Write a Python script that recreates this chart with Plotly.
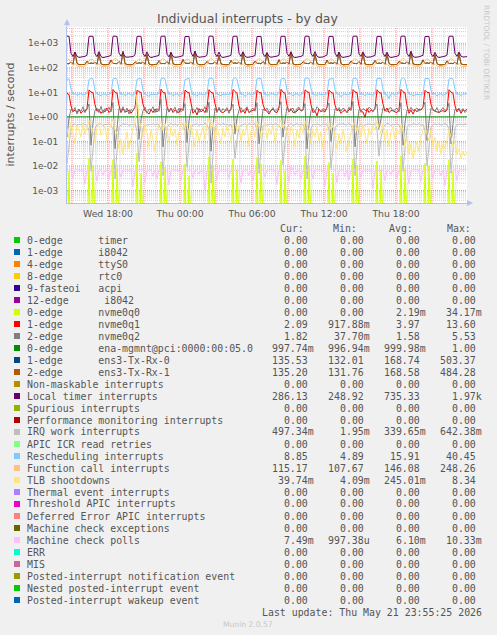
import math
import pandas as pd
import plotly.graph_objects as go

# ---------------- data (10-minute samples, Wed 14:35 -> Thu 23:55) ----------------
start_time = "2026-05-20 14:35"
end_time = "2026-05-21 23:55"

local_timer = [
    1960, 1930, 390, 290, 440, 300, 265, 270, 280, 295, 330, 1910,
    1950, 1920, 370, 285, 460, 290, 260, 268, 275, 300, 320, 1930,
    1970, 1900, 400, 300, 420, 285, 270, 272, 282, 290, 340, 1890,
    1940, 1910, 380, 290, 450, 295, 262, 270, 276, 305, 325, 1920,
    1960, 1950, 360, 280, 430, 290, 268, 265, 280, 298, 315, 1900,
    1930, 1900, 410, 295, 470, 300, 270, 275, 285, 290, 335, 1940,
    1970, 1920, 380, 288, 440, 286, 264, 270, 278, 302, 328, 1910,
    1950, 1940, 395, 292, 455, 298, 266, 268, 282, 296, 318, 1890,
    1960, 1910, 370, 285, 425, 292, 270, 274, 279, 300, 330, 1930,
    1940, 1930, 385, 300, 445, 288, 262, 266, 281, 294, 322, 1920,
    1970, 1900, 375, 290, 460, 296, 268, 272, 277, 305, 336, 1900,
    1950, 1920, 400, 286, 435, 291, 265, 270, 283, 298, 326, 1940,
    1960, 1940, 365, 294, 450, 299, 269, 267, 280, 301, 319, 1910,
    1930, 1910, 390, 288, 440, 287, 263, 271, 276, 297, 331, 1930,
    1970, 1930, 380, 292, 465, 294, 267, 269, 282, 303, 324, 1900,
    1950, 1900, 370, 287, 430, 290, 264, 272, 279, 299, 333, 1920,
    1960, 1920, 385, 295, 445, 300, 275, 290, 286,
]

ens3_rx1 = [
    150, 146, 175, 138, 430, 152, 135, 133, 136, 138, 185, 148,
    158, 150, 168, 140, 380, 147, 134, 132, 135, 139, 210, 152,
    155, 148, 180, 137, 470, 150, 136, 133, 134, 137, 175, 150,
    160, 152, 172, 139, 350, 145, 133, 134, 136, 140, 195, 147,
    152, 147, 178, 141, 420, 149, 135, 132, 137, 138, 220, 155,
    157, 151, 169, 138, 484, 151, 134, 133, 135, 141, 180, 149,
    154, 149, 176, 140, 330, 146, 136, 132, 134, 137, 200, 153,
    159, 150, 171, 137, 410, 148, 133, 134, 136, 139, 190, 151,
    153, 146, 182, 139, 390, 152, 135, 133, 135, 138, 215, 148,
    158, 152, 170, 141, 450, 147, 134, 132, 137, 140, 178, 154,
    155, 148, 175, 138, 360, 150, 136, 134, 134, 137, 205, 150,
    160, 151, 168, 140, 440, 149, 133, 133, 136, 139, 188, 152,
    152, 147, 179, 137, 400, 146, 135, 132, 135, 141, 198, 149,
    157, 150, 173, 139, 370, 151, 134, 134, 137, 138, 182, 155,
    154, 149, 177, 141, 460, 148, 136, 133, 134, 140, 212, 151,
    159, 152, 170, 138, 345, 150, 133, 132, 136, 137, 192, 148,
    153, 148, 174, 140, 395, 147, 135, 134, 135.2,
]
ens3_rx0 = ens3_rx1  # drawn underneath, visually identical

function_call = [
    235, 222, 165, 126, 150, 119, 114, 116, 113, 118, 132, 205,
    228, 218, 158, 124, 146, 117, 112, 115, 114, 119, 135, 212,
    240, 225, 170, 127, 155, 120, 115, 113, 116, 117, 130, 200,
    232, 220, 162, 123, 148, 118, 113, 117, 112, 120, 138, 215,
    238, 215, 168, 125, 152, 116, 114, 114, 115, 118, 133, 208,
    230, 223, 160, 128, 145, 121, 112, 116, 113, 117, 136, 210,
    245, 219, 166, 124, 150, 118, 115, 113, 114, 119, 131, 203,
    233, 221, 163, 126, 147, 117, 113, 115, 116, 118, 137, 214,
    236, 217, 169, 125, 153, 119, 114, 117, 113, 120, 134, 206,
    229, 224, 161, 127, 149, 120, 112, 114, 115, 117, 132, 211,
    241, 220, 167, 123, 151, 116, 115, 116, 112, 119, 139, 204,
    234, 218, 164, 126, 146, 118, 113, 113, 114, 118, 133, 209,
    237, 222, 159, 124, 154, 121, 114, 115, 116, 117, 135, 213,
    231, 216, 170, 128, 148, 117, 112, 117, 113, 120, 130, 207,
    248, 221, 165, 125, 152, 119, 115, 114, 115, 118, 138, 202,
    235, 219, 162, 127, 147, 118, 113, 116, 114, 117, 132, 210,
    239, 223, 167, 124, 150, 116, 114, 113, 115.17,
]

rescheduling = [
    34, 36, 14, 8.2, 9.0, 7.6, 8.4, 8.8, 7.9, 8.1, 9.3, 33,
    37, 35, 12, 8.6, 8.1, 7.2, 8.9, 8.3, 7.7, 8.5, 9.0, 35,
    38, 34, 13, 7.9, 8.7, 7.5, 8.2, 9.1, 8.0, 7.6, 8.8, 34,
    36, 37, 12, 8.4, 7.8, 6.9, 8.6, 8.0, 8.3, 7.9, 9.4, 36,
    39, 35, 14, 8.0, 8.9, 7.4, 8.1, 8.7, 7.5, 8.2, 9.1, 33,
    35, 38, 13, 7.7, 8.3, 7.0, 8.8, 8.4, 8.1, 7.8, 9.2, 37,
    38, 36, 12, 8.5, 8.0, 7.3, 8.5, 7.9, 8.6, 8.0, 8.9, 35,
    40, 34, 14, 8.1, 8.6, 6.8, 8.3, 8.9, 7.8, 8.4, 9.0, 36,
    36, 37, 13, 7.8, 8.2, 7.6, 9.0, 8.2, 8.0, 7.7, 9.3, 34,
    37, 35, 12, 8.3, 8.8, 7.1, 8.4, 8.6, 7.6, 8.1, 9.1, 38,
    39, 36, 14, 8.0, 8.1, 7.5, 8.7, 8.0, 8.3, 7.9, 8.8, 35,
    35, 38, 13, 8.6, 8.5, 6.6, 8.2, 8.5, 7.9, 8.3, 9.2, 36,
    38, 35, 12, 7.9, 8.7, 7.2, 8.9, 8.1, 8.4, 7.5, 9.0, 37,
    36, 37, 13, 8.2, 8.0, 5.5, 8.6, 8.8, 7.7, 8.2, 9.4, 34,
    40, 34, 14, 8.4, 8.4, 7.4, 8.0, 8.3, 8.1, 7.8, 8.9, 36,
    37, 36, 12, 8.1, 8.9, 7.0, 8.5, 8.7, 7.5, 8.0, 9.1, 35,
    38, 35, 13, 8.3, 8.6, 7.3, 8.8, 8.5, 8.85,
]

nvme0q1 = [
    9.2, 8.1, 2.8, 1.6, 1.9, 1.5, 2.1, 1.4, 1.8, 1.7, 2.2, 12.6,
    10.4, 9.6, 3.1, 1.7, 2.0, 1.4, 1.8, 1.6, 2.3, 1.5, 1.9, 13.2,
    10.1, 9.3, 2.9, 1.5, 2.2, 1.6, 1.7, 1.9, 1.4, 1.8, 2.4, 12.1,
    10.6, 9.8, 3.3, 1.8, 1.6, 1.3, 2.0, 1.5, 2.1, 1.6, 2.0, 13.6,
    9.9, 9.4, 2.7, 1.6, 2.3, 1.5, 1.9, 1.7, 1.5, 2.2, 1.8, 12.4,
    10.3, 9.7, 3.0, 1.4, 1.8, 1.2, 2.2, 1.6, 1.9, 1.5, 2.5, 12.9,
    10.0, 9.5, 3.4, 1.7, 2.1, 1.6, 1.5, 1.8, 2.0, 1.7, 2.1, 13.1,
    10.5, 9.2, 2.8, 1.5, 1.9, 1.4, 2.3, 1.5, 1.7, 1.9, 2.0, 12.3,
    9.8, 9.6, 3.2, 1.9, 1.7, 1.3, 1.8, 2.1, 1.6, 1.5, 2.3, 13.4,
    10.2, 9.1, 2.9, 1.6, 2.2, 1.5, 1.6, 1.7, 2.2, 1.8, 1.9, 12.7,
    10.7, 9.9, 3.1, 1.5, 1.8, 1.1, 2.1, 1.6, 1.8, 1.6, 2.4, 12.5,
    10.0, 9.3, 3.0, 1.8, 2.0, 1.4, 1.7, 1.9, 1.5, 2.0, 2.1, 13.0,
    10.4, 9.7, 2.7, 1.6, 1.6, 0.95, 2.2, 1.5, 1.9, 1.7, 2.2, 12.8,
    9.9, 9.4, 3.3, 1.7, 2.3, 1.5, 1.8, 1.8, 1.6, 1.5, 2.0, 13.3,
    10.6, 9.5, 2.9, 1.4, 1.9, 1.3, 2.0, 1.6, 2.1, 1.9, 2.5, 12.2,
    10.1, 9.8, 3.2, 1.9, 1.7, 1.6, 1.5, 1.7, 1.8, 1.6, 1.9, 12.9,
    10.3, 9.2, 2.8, 1.6, 2.1, 1.4, 1.9, 1.7, 2.09,
]

nvme0q2 = [
    0.15, 0.9, 2.1, 1.6, 2.4, 1.3, 2.0, 1.7, 2.6, 1.5, 2.1, 3.4,
    0.07, 0.6, 1.9, 2.3, 1.5, 2.7, 1.4, 2.2, 1.8, 2.5, 1.6, 3.9,
    0.05, 0.45, 2.2, 1.7, 2.6, 1.5, 2.3, 1.3, 2.0, 1.8, 2.4, 3.6,
    0.12, 0.8, 1.8, 2.5, 1.4, 2.1, 1.9, 2.6, 1.5, 2.2, 1.7, 5.5,
    0.06, 0.5, 2.4, 1.6, 2.2, 1.8, 2.5, 1.4, 2.3, 1.6, 2.0, 3.5,
    0.09, 0.7, 2.0, 2.2, 1.7, 2.4, 1.5, 2.1, 1.9, 2.6, 1.5, 4.0,
    0.04, 0.4, 2.3, 1.5, 2.5, 1.6, 2.2, 1.8, 2.4, 1.4, 2.3, 3.3,
    0.2, 0.9, 1.9, 2.4, 1.6, 2.0, 2.6, 1.5, 1.8, 2.3, 1.7, 3.8,
    0.08, 0.55, 2.1, 1.8, 2.3, 1.5, 1.9, 2.4, 1.6, 2.0, 2.5, 4.2,
    0.15, 0.75, 2.5, 1.6, 2.0, 2.3, 1.4, 2.2, 2.5, 1.7, 1.9, 3.5,
    0.05, 0.5, 1.8, 2.3, 1.5, 2.6, 2.1, 1.6, 2.2, 1.9, 2.4, 3.7,
    0.1, 0.65, 2.2, 1.9, 2.4, 1.7, 2.3, 2.0, 1.5, 2.5, 1.8, 4.3,
    0.06, 0.45, 2.0, 1.7, 2.2, 1.9, 1.6, 2.5, 2.1, 1.6, 2.2, 3.4,
    0.3, 1.0, 2.4, 2.1, 1.6, 2.2, 2.4, 1.7, 1.9, 2.3, 1.6, 3.8,
    0.07, 0.6, 1.9, 1.6, 2.5, 1.8, 2.0, 2.3, 1.7, 2.1, 2.5, 4.0,
    0.11, 0.7, 2.3, 2.2, 1.7, 2.4, 1.5, 1.9, 2.4, 1.8, 2.0, 3.6,
    0.08, 0.55, 2.1, 1.9, 2.3, 1.6, 2.2, 1.5, 1.82,
]

ena_mgmnt = [
    1.0, 1.0, 0.999, 1.0, 1.0, 0.998, 1.0, 1.0, 0.999, 1.0, 1.0, 1.0,
    1.0, 0.999, 1.0, 1.0, 0.998, 1.0, 1.0, 1.0, 0.999, 1.0, 1.0, 1.0,
    1.0, 1.0, 1.0, 0.999, 1.0, 1.0, 0.998, 1.0, 1.0, 1.0, 0.999, 1.0,
    0.999, 1.0, 1.0, 1.0, 1.0, 0.999, 1.0, 0.998, 1.0, 1.0, 1.0, 1.0,
    1.0, 1.0, 0.998, 1.0, 0.999, 1.0, 1.0, 1.0, 1.0, 0.999, 1.0, 1.0,
    1.0, 0.999, 1.0, 1.0, 1.0, 0.998, 1.0, 1.0, 0.999, 1.0, 1.0, 1.0,
    1.0, 1.0, 1.0, 0.999, 1.0, 1.0, 1.0, 0.998, 1.0, 1.0, 0.999, 1.0,
    0.998, 1.0, 1.0, 1.0, 0.999, 1.0, 1.0, 1.0, 1.0, 0.999, 1.0, 1.0,
    1.0, 1.0, 0.999, 1.0, 1.0, 1.0, 0.998, 1.0, 1.0, 1.0, 1.0, 0.999,
    1.0, 0.999, 1.0, 1.0, 0.998, 1.0, 1.0, 0.999, 1.0, 1.0, 1.0, 1.0,
    1.0, 1.0, 1.0, 0.999, 1.0, 1.0, 0.999, 1.0, 1.0, 0.998, 1.0, 1.0,
    0.999, 1.0, 1.0, 1.0, 1.0, 0.998, 1.0, 1.0, 1.0, 1.0, 0.999, 1.0,
    1.0, 1.0, 0.999, 1.0, 1.0, 1.0, 1.0, 0.999, 1.0, 1.0, 1.0, 0.998,
    1.0, 0.998, 1.0, 1.0, 0.999, 1.0, 1.0, 1.0, 0.999, 1.0, 1.0, 1.0,
    1.0, 1.0, 1.0, 0.998, 1.0, 1.0, 0.999, 1.0, 1.0, 1.0, 0.999, 1.0,
    0.999, 1.0, 1.0, 1.0, 1.0, 0.999, 1.0, 1.0, 0.998, 1.0, 1.0, 1.0,
    1.0, 1.0, 0.999, 1.0, 1.0, 0.998, 1.0, 1.0, 0.998,
]

irq_work = [
    0.012, 0.09, 0.36, 0.48, 0.52, 0.45, 0.50, 0.47, 0.53, 0.49, 0.46, 0.28,
    0.006, 0.05, 0.33, 0.50, 0.47, 0.54, 0.44, 0.51, 0.48, 0.52, 0.45, 0.31,
    0.003, 0.04, 0.40, 0.46, 0.53, 0.49, 0.51, 0.44, 0.50, 0.47, 0.55, 0.26,
    0.015, 0.10, 0.35, 0.52, 0.45, 0.50, 0.47, 0.53, 0.46, 0.51, 0.48, 0.30,
    0.004, 0.06, 0.38, 0.47, 0.54, 0.46, 0.52, 0.45, 0.50, 0.49, 0.53, 0.27,
    0.009, 0.08, 0.34, 0.51, 0.48, 0.53, 0.45, 0.50, 0.47, 0.55, 0.46, 0.32,
    0.002, 0.03, 0.39, 0.49, 0.52, 0.47, 0.54, 0.48, 0.51, 0.45, 0.50, 0.25,
    0.02, 0.12, 0.37, 0.45, 0.50, 0.52, 0.46, 0.53, 0.49, 0.48, 0.54, 0.29,
    0.005, 0.05, 0.41, 0.53, 0.46, 0.49, 0.51, 0.47, 0.52, 0.50, 0.45, 0.33,
    0.011, 0.09, 0.36, 0.48, 0.53, 0.45, 0.50, 0.54, 0.46, 0.51, 0.49, 0.28,
    0.003, 0.04, 0.33, 0.50, 0.47, 0.52, 0.48, 0.45, 0.53, 0.47, 0.52, 0.30,
    0.008, 0.07, 0.38, 0.46, 0.51, 0.50, 0.53, 0.49, 0.47, 0.54, 0.46, 0.26,
    0.004, 0.06, 0.40, 0.52, 0.49, 0.46, 0.51, 0.52, 0.50, 0.48, 0.53, 0.31,
    0.025, 0.14, 0.35, 0.47, 0.54, 0.51, 0.45, 0.50, 0.48, 0.52, 0.47, 0.29,
    0.006, 0.05, 0.37, 0.51, 0.46, 0.53, 0.49, 0.47, 0.54, 0.45, 0.50, 0.27,
    0.010, 0.08, 0.39, 0.49, 0.52, 0.48, 0.52, 0.46, 0.49, 0.53, 0.48, 0.32,
    0.005, 0.06, 0.36, 0.50, 0.48, 0.51, 0.47, 0.52, 0.497,
]

tlb_shootdowns = [
    0.35, 0.12, 0.6, 0.25, 0.08, 0.45, 0.3, 0.15, 0.55, 0.2, 0.4, 0.7,
    0.5, 0.25, 0.09, 0.35, 0.6, 0.18, 0.28, 0.42, 0.11, 0.33, 0.52, 0.8,
    0.3, 0.2, 0.05, 0.12, 0.03, 0.08, 0.25, 0.05, 0.15, 0.35, 0.6, 8.3,
    0.9, 0.4, 0.15, 0.5, 0.22, 0.06, 0.3, 0.12, 0.04, 0.2, 0.45, 0.65,
    0.28, 0.55, 0.18, 0.09, 0.4, 0.16, 0.32, 0.07, 0.25, 0.5, 0.3, 0.6,
    0.45, 0.2, 0.5, 0.14, 0.06, 0.3, 0.1, 0.22, 0.38, 0.12, 0.5, 0.9,
    0.3, 0.6, 0.12, 0.4, 0.2, 0.08, 0.35, 0.15, 0.45, 0.25, 0.1, 0.55,
    0.7, 0.25, 0.45, 0.1, 0.3, 0.18, 0.5, 0.06, 0.28, 0.4, 0.15, 0.6,
    0.4, 0.15, 0.3, 0.55, 0.12, 0.35, 0.2, 0.45, 0.09, 0.3, 0.5, 0.75,
    0.35, 0.5, 0.2, 0.1, 0.4, 0.25, 0.06, 0.3, 0.14, 0.45, 0.22, 0.65,
    0.5, 0.2, 0.08, 0.3, 0.15, 0.4, 0.1, 0.25, 0.05, 0.2, 0.35, 0.6,
    0.3, 0.45, 0.15, 0.05, 0.2, 0.08, 0.3, 0.12, 0.04, 0.1, 0.25, 0.5,
    0.6, 0.25, 0.4, 0.15, 0.5, 0.2, 0.08, 0.35, 0.18, 0.45, 0.3, 0.7,
    0.4, 0.2, 0.55, 0.1, 0.3, 0.06, 0.25, 0.4, 0.12, 0.3, 0.2, 0.5,
    0.25, 0.06, 0.15, 0.03, 0.08, 0.02, 0.05, 0.1, 0.04, 0.15, 0.3, 0.45,
    0.2, 0.1, 0.3, 0.06, 0.15, 0.04, 0.1, 0.03, 0.08, 0.05, 0.12, 0.3,
    0.15, 0.06, 0.1, 0.03, 0.05, 0.02, 0.04, 0.025, 0.0397,
]

machine_check_polls = [
    0.0068, 0.0070, 0.0067, 0.0031, 0.0069, 0.0071, 0.0068, 0.0066, 0.0070, 0.0019, 0.0069, 0.0068,
    0.0070, 0.0067, 0.0069, 0.0024, 0.0068, 0.0070, 0.0042, 0.0067, 0.0069, 0.0028, 0.0070, 0.0067,
    0.0069, 0.0071, 0.0066, 0.0035, 0.0070, 0.0068, 0.0069, 0.0067, 0.0071, 0.0014, 0.0068, 0.0069,
    0.0067, 0.0069, 0.0070, 0.0022, 0.0068, 0.0066, 0.0070, 0.0038, 0.0068, 0.0030, 0.0069, 0.0070,
    0.0070, 0.0068, 0.0067, 0.0017, 0.0071, 0.0069, 0.0067, 0.0069, 0.0066, 0.0026, 0.0070, 0.0068,
    0.0068, 0.0070, 0.0069, 0.0033, 0.0067, 0.0070, 0.0045, 0.0068, 0.0070, 0.0010, 0.0068, 0.0069,
    0.0069, 0.0067, 0.0070, 0.0027, 0.0069, 0.0068, 0.0070, 0.0066, 0.0069, 0.0032, 0.0071, 0.0067,
    0.0070, 0.0069, 0.0066, 0.0020, 0.0070, 0.0067, 0.0069, 0.0040, 0.0068, 0.0025, 0.0069, 0.0070,
    0.0067, 0.0071, 0.0069, 0.0036, 0.0068, 0.0070, 0.0068, 0.0069, 0.0067, 0.0018, 0.0070, 0.0068,
    0.0069, 0.0068, 0.0070, 0.0023, 0.0103, 0.0069, 0.0043, 0.0067, 0.0070, 0.0029, 0.0068, 0.0069,
    0.0070, 0.0067, 0.0068, 0.0030, 0.0069, 0.0071, 0.0068, 0.0070, 0.0066, 0.0015, 0.0069, 0.0070,
    0.0068, 0.0070, 0.0069, 0.0021, 0.0067, 0.0068, 0.0070, 0.0037, 0.0069, 0.0027, 0.0070, 0.0067,
    0.0069, 0.0068, 0.0071, 0.0034, 0.0070, 0.0069, 0.0067, 0.0068, 0.0070, 0.0012, 0.0068, 0.0069,
    0.0067, 0.0070, 0.0068, 0.0025, 0.0069, 0.0067, 0.0044, 0.0070, 0.0068, 0.0031, 0.0069, 0.0070,
    0.0070, 0.0069, 0.0067, 0.0019, 0.0068, 0.0070, 0.0069, 0.0067, 0.0069, 0.0024, 0.0071, 0.0068,
    0.0068, 0.0067, 0.0070, 0.0032, 0.0070, 0.0068, 0.0070, 0.0039, 0.0067, 0.0016, 0.0069, 0.0070,
    0.0069, 0.0070, 0.0068, 0.0026, 0.0069, 0.0071, 0.0068, 0.0070, 0.0075,
]

nvme0q0 = [
    0, 0.006, 0, 0, 0, 0, 0, 0, 0, 0, 0, 0.021,
    0, 0.011, 0, 0, 0, 0, 0, 0, 0, 0, 0, 0.018,
    0, 0.008, 0, 0, 0, 0, 0, 0, 0, 0, 0, 0.034,
    0, 0.005, 0, 0, 0, 0, 0, 0, 0, 0, 0, 0.015,
    0, 0.009, 0, 0, 0, 0, 0, 0, 0, 0, 0, 0.012,
    0, 0.004, 0, 0, 0, 0, 0, 0, 0, 0, 0, 0.024,
    0, 0.010, 0, 0, 0, 0, 0, 0, 0, 0, 0, 0.019,
    0, 0.007, 0, 0, 0, 0, 0, 0, 0, 0, 0, 0.022,
    0, 0.012, 0, 0, 0, 0, 0, 0, 0, 0, 0, 0.017,
    0, 0.006, 0, 0, 0, 0, 0, 0, 0, 0, 0, 0.025,
    0, 0.009, 0, 0, 0, 0, 0, 0, 0, 0, 0, 0.014,
    0, 0.005, 0, 0, 0, 0, 0, 0, 0, 0, 0, 0.020,
    0, 0.011, 0, 0, 0, 0, 0, 0, 0, 0, 0, 0.016,
    0, 0.007, 0, 0, 0, 0, 0, 0, 0, 0, 0, 0.026,
    0, 0.008, 0, 0, 0, 0, 0, 0, 0, 0, 0, 0.013,
    0, 0.010, 0, 0, 0, 0, 0, 0, 0, 0, 0, 0.018,
    0, 0.006, 0, 0, 0, 0, 0, 0, 0,
]

# ---------------- legend table ----------------
legend_labels = [
    "0-edge      timer", "1-edge      i8042", "4-edge      ttyS0", "8-edge      rtc0",
    "9-fasteoi   acpi", "12-edge      i8042", "0-edge      nvme0q0", "1-edge      nvme0q1",
    "2-edge      nvme0q2", "0-edge      ena-mgmnt@pci:0000:00:05.0", "1-edge      ens3-Tx-Rx-0",
    "2-edge      ens3-Tx-Rx-1", "Non-maskable interrupts", "Local timer interrupts",
    "Spurious interrupts", "Performance monitoring interrupts", "IRQ work interrupts",
    "APIC ICR read retries", "Rescheduling interrupts", "Function call interrupts",
    "TLB shootdowns", "Thermal event interrupts", "Threshold APIC interrupts",
    "Deferred Error APIC interrupts", "Machine check exceptions", "Machine check polls",
    "ERR", "MIS", "Posted-interrupt notification event", "Nested posted-interrupt event",
    "Posted-interrupt wakeup event",
]
legend_colors = [
    "#00CC00", "#0066B3", "#FF8000", "#FFCC00", "#330099", "#990099", "#CCFF00", "#FF0000",
    "#808080", "#008F00", "#00487D", "#B35A00", "#B38F00", "#6B006B", "#8FB300", "#B30000",
    "#BEBEBE", "#80FF80", "#80C9FF", "#FFC080", "#FFE680", "#AA80FF", "#EE00CC", "#FF8080",
    "#666600", "#FFBFFF", "#00FFCC", "#CC6699", "#999900", "#00CC00", "#0066B3",
]
Z = "0.00"
cur_vals = [Z, Z, Z, Z, Z, Z, Z, "2.09", "1.82", "997.74m", "135.53", "135.20", Z, "286.13", Z, Z,
            "497.34m", Z, "8.85", "115.17", "39.74m", Z, Z, Z, Z, "7.49m", Z, Z, Z, Z, Z]
min_vals = [Z, Z, Z, Z, Z, Z, Z, "917.88m", "37.70m", "996.94m", "132.01", "131.76", Z, "248.92", Z, Z,
            "1.95m", Z, "4.89", "107.67", "4.09m", Z, Z, Z, Z, "997.38u", Z, Z, Z, Z, Z]
avg_vals = [Z, Z, Z, Z, Z, Z, "2.19m", "3.97", "1.58", "999.98m", "168.74", "168.58", Z, "735.33", Z, Z,
            "339.65m", Z, "15.91", "146.08", "245.01m", Z, Z, Z, Z, "6.10m", Z, Z, Z, Z, Z]
max_vals = [Z, Z, Z, Z, Z, Z, "34.17m", "13.60", "5.53", "1.00", "503.37", "484.28", Z, "1.97k", Z, Z,
            "642.38m", Z, "40.45", "248.26", "8.34", Z, Z, Z, Z, "10.33m", Z, Z, Z, Z, Z]

x_tick_times = ["2026-05-20 18:00", "2026-05-21 00:00", "2026-05-21 06:00",
                "2026-05-21 12:00", "2026-05-21 18:00"]
x_tick_text = ["Wed 18:00", "Thu 00:00", "Thu 06:00", "Thu 12:00", "Thu 18:00"]
y_tick_vals = [1e-3, 1e-2, 1e-1, 1e0, 1e1, 1e2, 1e3]
y_tick_text = ["1e-03", "1e-02", "1e-01", "1e+00", "1e+01", "1e+02", "1e+03"]

# ---------------- layout geometry ----------------
W, H = 497, 635
PL, PR, PT, PB = 67, 467, 27, 203
YMIN, YMAX = -3.51, 3.665
AXIS = "#B4C0EE"
FONT = "#555555"


def fx(px):
    return (px - PL) / (PR - PL)


def fy(py):
    return (PB - py) / (PB - PT)


def ly(v):
    return (math.log10(v) - YMIN) / (YMAX - YMIN)


times = pd.date_range(start_time, periods=len(local_timer), freq="10min")


def disp(vals):
    return [v if v > 0 else 1e-6 for v in vals]


fig = go.Figure()

plotted = [
    (nvme0q0, "#CCFF00"), (nvme0q1, "#FF0000"), (nvme0q2, "#808080"), (ena_mgmnt, "#008F00"),
    (ens3_rx0, "#00487D"), (ens3_rx1, "#B35A00"), (local_timer, "#6B006B"),
    (irq_work, "#BEBEBE"), (rescheduling, "#80C9FF"), (function_call, "#FFC080"),
    (tlb_shootdowns, "#FFE680"), (machine_check_polls, "#FFBFFF"),
]
for vals, col in plotted:
    fig.add_trace(go.Scatter(x=times[:len(vals)], y=disp(vals), mode="lines",
                             line=dict(color=col, width=1), hoverinfo="skip",
                             showlegend=False))

shapes = []
# horizontal grid
for d in range(-4, 4):
    for m in range(1, 10):
        v = m * 10 ** d
        L = math.log10(v)
        if YMIN < L < YMAX:
            major = m == 1
            shapes.append(dict(type="line", xref="paper", yref="paper", x0=0, x1=1,
                               y0=ly(v), y1=ly(v), layer="below",
                               line=dict(color="#F09090" if major else "#CFCFCF",
                                         width=1, dash="1px,1px")))
# vertical grid
for t in pd.date_range("2026-05-20 15:00", "2026-05-21 23:00", freq="1h"):
    major = t.hour % 3 == 0
    shapes.append(dict(type="line", xref="x", yref="paper", x0=t, x1=t, y0=0, y1=1,
                       layer="below",
                       line=dict(color="#F09090" if major else "#CFCFCF", width=1,
                                 dash="1px,1px")))
# axis arrows
shapes.append(dict(type="path", xref="paper", yref="paper", layer="above",
                   path=f"M {fx(64)},{fy(25)} L {fx(70)},{fy(25)} L {fx(67)},{fy(19)} Z",
                   fillcolor=AXIS, line=dict(width=0)))
shapes.append(dict(type="path", xref="paper", yref="paper", layer="above",
                   path=f"M {fx(467)},{fy(200)} L {fx(467)},{fy(206)} L {fx(473)},{fy(203)} Z",
                   fillcolor=AXIS, line=dict(width=0)))
shapes.append(dict(type="line", xref="paper", yref="paper", x0=fx(467), x1=fx(470),
                   y0=0, y1=0, line=dict(color=AXIS, width=1)))
shapes.append(dict(type="line", xref="paper", yref="paper", x0=0, x1=0,
                   y0=1, y1=fy(22), line=dict(color=AXIS, width=1)))

annotations = []


def txt(x, y, s, size, color=FONT, xanchor="left", family="DejaVu Sans Mono", angle=0):
    annotations.append(dict(x=fx(x), y=fy(y), xref="paper", yref="paper", text=s,
                            showarrow=False, xanchor=xanchor, yanchor="middle",
                            borderpad=0, textangle=angle,
                            font=dict(family=family, size=size, color=color)))


txt(248, 18.5, "Individual interrupts - by day", 12.5, "#555555", "center", "DejaVu Sans")
txt(10, 114.5, "interrupts / second", 11, "#555555", "center", "DejaVu Sans", -90)
txt(487, 52, "RRDTOOL / TOBI OETIKER", 7.4, "#C8C8C8", "center", "DejaVu Sans", 90)
txt(248, 624.5, "Munin 2.0.57", 7.6, "#C8C8C8", "center", "DejaVu Sans")

NB = "\u00a0"
for hx, h in zip([279, 332, 388, 446], ["Cur:", "Min:", "Avg:", "Max:"]):
    txt(hx - 0.5, 228, h, 9.9)


def fmt(v):
    return v if v[-1] in "mkuM" else v + NB


for r, lab in enumerate(legend_labels):
    yc = 240 + 12 * r
    shapes.append(dict(type="rect", xref="paper", yref="paper", x0=fx(14), x1=fx(20),
                       y0=fy(yc + 3), y1=fy(yc - 3), fillcolor=legend_colors[r],
                       line=dict(width=0), layer="above"))
    txt(26, yc, lab.replace(" ", NB), 9.9)
    for edge, arr in zip([315, 371, 427, 483], [cur_vals, min_vals, avg_vals, max_vals]):
        txt(edge, yc, fmt(arr[r]), 9.9, xanchor="right")

txt(483, 612, "Last update: Thu May 21 23:55:25 2026".replace(" ", NB), 9.9, xanchor="right")

fig.update_layout(
    width=W, height=H, autosize=False,
    margin=dict(l=PL, r=W - PR, t=PT, b=H - PB, pad=0),
    paper_bgcolor="#F0F0F0", plot_bgcolor="#FFFFFF",
    shapes=shapes, annotations=annotations,
    xaxis=dict(type="date", range=[start_time, end_time], showgrid=False, zeroline=False,
               tickvals=x_tick_times, ticktext=x_tick_text, ticks="",
               tickfont=dict(family="DejaVu Sans", size=9.3, color=FONT),
               showline=True, linecolor=AXIS, linewidth=1, ticklabelstandoff=2),
    yaxis=dict(type="log", range=[YMIN, YMAX], showgrid=False, zeroline=False,
               tickvals=y_tick_vals, ticktext=y_tick_text, ticks="",
               tickfont=dict(family="DejaVu Sans", size=9, color=FONT),
               showline=True, linecolor=AXIS, linewidth=1, ticklabelstandoff=6),
    showlegend=False,
)

fig.write_html(
    "out.html",
    config={"displayModeBar": False, "staticPlot": True},
    post_script="document.body.style.margin='0';document.body.style.padding='0';"
                "document.body.style.background='#F0F0F0';"
                "document.documentElement.style.overflow='hidden';",
)
